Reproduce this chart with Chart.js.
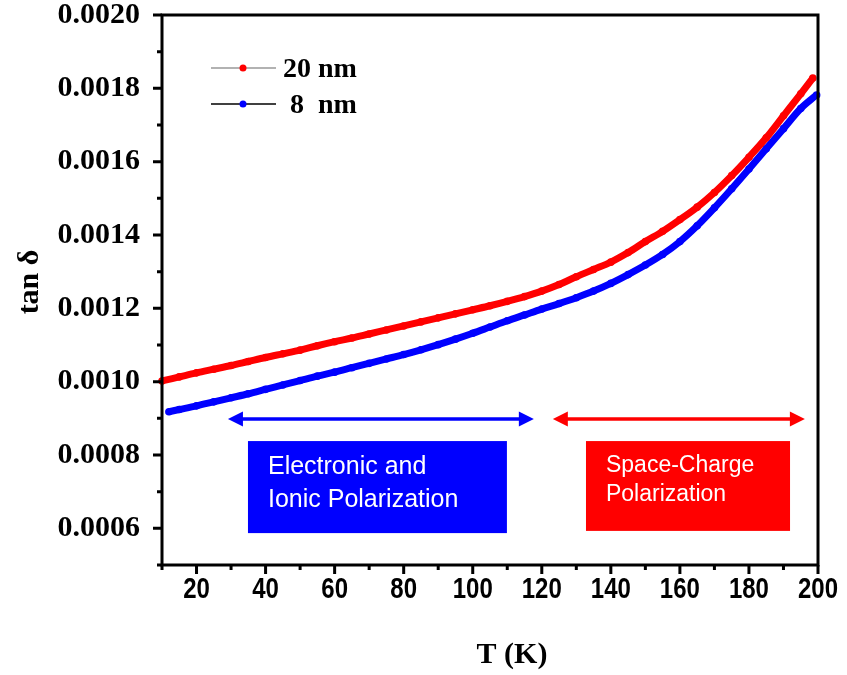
<!DOCTYPE html>
<html>
<head>
<meta charset="utf-8">
<script src="https://cdn.jsdelivr.net/npm/chart.js@4.4.1/dist/chart.umd.min.js"></script>
<style>
  body { margin: 0; background: #fff; }
  #wrap { width: 847px; height: 675px; }
</style>
</head>
<body>
<div id="wrap"><canvas id="myChart" width="847" height="675"></canvas></div>
<script>
// dati: tan delta contro temperatura
const tempRed = [10, 15, 20, 25, 30, 35, 40, 45, 50, 55, 60, 65, 70, 75, 80, 85, 90, 95, 100,
  105, 110, 115, 120, 125, 130, 135, 140, 145, 150, 155, 160, 165, 170, 175, 180, 185, 190, 195, 198.5];
const tanRed = [0.001002, 0.001013, 0.001024, 0.001034, 0.001044, 0.001055, 0.001066, 0.001076,
  0.001086, 0.001098, 0.001109, 0.001119, 0.001130, 0.001141, 0.001152, 0.001163, 0.001174,
  0.001185, 0.001196, 0.001207, 0.001219, 0.001232, 0.001247, 0.001265, 0.001286, 0.001306,
  0.001326, 0.001352, 0.001382, 0.001410, 0.001442, 0.001476, 0.001516, 0.001562, 0.001612,
  0.001665, 0.001725, 0.001785, 0.001828];

const tempBlue = [12, 15, 20, 25, 30, 35, 40, 45, 50, 55, 60, 65, 70, 75, 80, 85, 90, 95, 100,
  105, 110, 115, 120, 125, 130, 135, 140, 145, 150, 155, 160, 165, 170, 175, 180, 185, 190, 195, 199.6];
const tanBlue = [0.000918, 0.000924, 0.000934, 0.000945, 0.000956, 0.000967, 0.000979, 0.000991,
  0.001003, 0.001015, 0.001026, 0.001038, 0.001050, 0.001062, 0.001074, 0.001087, 0.001101,
  0.001116, 0.001132, 0.001149, 0.001166, 0.001182, 0.001198, 0.001213, 0.001229, 0.001247,
  0.001268, 0.001292, 0.001318, 0.001347, 0.001382, 0.001425, 0.001474, 0.001526, 0.001580,
  0.001635, 0.001690, 0.001745, 0.001782];

const xTicks = [20, 40, 60, 80, 100, 120, 140, 160, 180, 200];
const yTicks = [0.0006, 0.0008, 0.0010, 0.0012, 0.0014, 0.0016, 0.0018, 0.0020];
const seriesNames = ['20 nm', '8  nm'];

// regioni di polarizzazione (coordinate dei dati)
const regions = [
  { text: ['Electronic and', 'Ionic Polarization'], color: '#0000ff', arrow: [29.1, 117.7], box: [34.9, 109.9, 0.000838, 0.000587], font: 25, lines: [467, 500] },
  { text: ['Space-Charge', 'Polarization'], color: '#ff0000', arrow: [123.2, 196.2], box: [132.8, 191.9, 0.000838, 0.000593], font: 23, lines: [466, 495] }
];
const arrowLevel = 0.000898;

const serif = "'Liberation Serif', 'Times New Roman', serif";

const toPoints = (xs, ys) => xs.map((t, i) => ({ x: t, y: ys[i] }));

// plugin: riquadro, tacche, titoli, legenda e annotazioni
const decor = {
  id: 'decor',
  afterDatasetsDraw(chart) {
    const { ctx, scales: { x, y } } = chart;
    ctx.save();
    regions.forEach(r => {
      const yA = y.getPixelForValue(arrowLevel);
      const x1 = x.getPixelForValue(r.arrow[0]);
      const x2 = x.getPixelForValue(r.arrow[1]);
      ctx.strokeStyle = r.color;
      ctx.fillStyle = r.color;
      ctx.lineWidth = 3.5;
      ctx.beginPath();
      ctx.moveTo(x1 + 10, yA);
      ctx.lineTo(x2 - 10, yA);
      ctx.stroke();
      ctx.beginPath();
      ctx.moveTo(x1, yA); ctx.lineTo(x1 + 15, yA - 7.5); ctx.lineTo(x1 + 15, yA + 7.5); ctx.closePath();
      ctx.moveTo(x2, yA); ctx.lineTo(x2 - 15, yA - 7.5); ctx.lineTo(x2 - 15, yA + 7.5); ctx.closePath();
      ctx.fill();

      const bx1 = x.getPixelForValue(r.box[0]);
      const bx2 = x.getPixelForValue(r.box[1]);
      const by1 = y.getPixelForValue(r.box[2]);
      const by2 = y.getPixelForValue(r.box[3]);
      ctx.fillRect(bx1, by1, bx2 - bx1, by2 - by1);
      ctx.fillStyle = '#fff';
      ctx.font = r.font + "px 'Liberation Sans', Arial, sans-serif";
      ctx.textBaseline = 'middle';
      ctx.textAlign = 'left';
      r.text.forEach((line, i) => ctx.fillText(line, bx1 + 20, r.lines[i]));
    });
    ctx.restore();
  },
  afterDraw(chart) {
    const { ctx, chartArea: a, scales: { x, y } } = chart;
    ctx.save();
    ctx.strokeStyle = '#000';
    ctx.lineWidth = 3;
    ctx.strokeRect(a.left, a.top, a.right - a.left, a.bottom - a.top);

    // tacche maggiori e minori
    ctx.beginPath();
    for (let v = 10; v <= 200; v += 10) {
      const px = x.getPixelForValue(v);
      const len = v % 20 === 0 ? 9 : 5;
      ctx.moveTo(px, a.bottom);
      ctx.lineTo(px, a.bottom + len);
    }
    for (let k = 5; k <= 20; k++) {
      const py = y.getPixelForValue(k / 10000);
      const len = k % 2 === 0 ? 9 : 5;
      ctx.moveTo(a.left, py);
      ctx.lineTo(a.left - len, py);
    }
    ctx.stroke();

    // etichette asse x (carattere stretto)
    ctx.fillStyle = '#000';
    ctx.font = "bold 30px 'Liberation Sans', Arial, sans-serif";
    ctx.textAlign = 'center';
    ctx.textBaseline = 'middle';
    xTicks.forEach(v => {
      ctx.save();
      ctx.translate(x.getPixelForValue(v), 590);
      ctx.scale(0.8, 1);
      ctx.fillText(String(v), 0, 0);
      ctx.restore();
    });

    // titoli degli assi
    ctx.font = 'bold 30px ' + serif;
    ctx.fillText('T (K)', 512, 655);
    ctx.save();
    ctx.translate(30, 282);
    ctx.rotate(-Math.PI / 2);
    ctx.fillText('tan δ', 0, 0);
    ctx.restore();

    // legenda
    const rows = [
      { y: 68, line: '#999999', dot: '#ff0000', tx: 283 },
      { y: 104, line: '#000000', dot: '#0000ff', tx: 290 }
    ];
    ctx.font = 'bold 28px ' + serif;
    ctx.textAlign = 'left';
    rows.forEach((r, i) => {
      ctx.strokeStyle = r.line;
      ctx.lineWidth = 1.5;
      ctx.beginPath();
      ctx.moveTo(211, r.y);
      ctx.lineTo(276, r.y);
      ctx.stroke();
      ctx.fillStyle = r.dot;
      ctx.beginPath();
      ctx.arc(243, r.y, 3.5, 0, Math.PI * 2);
      ctx.fill();
      ctx.fillStyle = '#000';
      ctx.fillText(seriesNames[i], r.tx, r.y + 2);
    });
    ctx.restore();
  }
};

const ctx = document.getElementById('myChart').getContext('2d');
const myChart = new Chart(ctx, {
  type: 'line',
  data: {
    datasets: [
      {
        label: seriesNames[0],
        data: toPoints(tempRed, tanRed),
        borderColor: '#ff0000',
        backgroundColor: '#ff0000',
        borderWidth: 7,
        pointRadius: 3.8,
        pointBorderWidth: 0,
        cubicInterpolationMode: 'monotone',
        clip: 8
      },
      {
        label: seriesNames[1],
        data: toPoints(tempBlue, tanBlue),
        borderColor: '#0000ff',
        backgroundColor: '#0000ff',
        borderWidth: 7,
        pointRadius: 3.8,
        pointBorderWidth: 0,
        cubicInterpolationMode: 'monotone',
        clip: 8
      }
    ]
  },
  options: {
    responsive: false,
    animation: false,
    layout: { padding: { top: 15, right: 29, left: 0, bottom: 0 } },
    plugins: { legend: { display: false }, tooltip: { enabled: false } },
    scales: {
      x: {
        type: 'linear',
        min: 10,
        max: 200,
        afterBuildTicks: s => { s.ticks = xTicks.map(v => ({ value: v })); },
        afterFit: s => { s.height = 110; s.paddingLeft = 0; s.paddingRight = 0; },
        grid: { display: false },
        border: { display: false },
        ticks: { display: false }
      },
      y: {
        min: 0.0005,
        max: 0.0020,
        afterBuildTicks: s => { s.ticks = yTicks.map(v => ({ value: v })); },
        afterFit: s => { s.width = 162; s.paddingTop = 0; s.paddingBottom = 0; },
        grid: { display: false },
        border: { display: false },
        ticks: {
          color: '#000',
          padding: 14,
          callback: v => v.toFixed(4),
          font: { family: serif, size: 30, weight: 'bold' }
        }
      }
    }
  },
  plugins: [decor]
});
</script>
</body>
</html>
